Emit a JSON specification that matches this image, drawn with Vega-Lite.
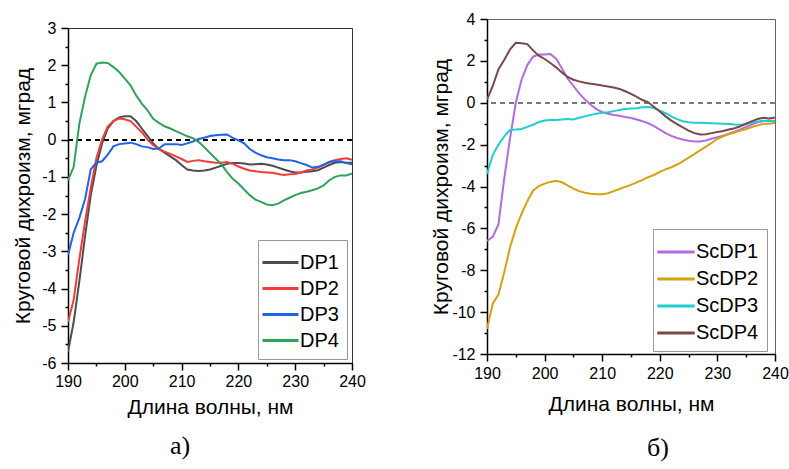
{
"$schema": "https://vega.github.io/schema/vega-lite/v6.json",
"padding": {"left": 12, "top": 10, "right": 5, "bottom": 5},
"background": "white",
"config": {"view": {"stroke": "#333", "strokeWidth": 1}, "font": "Liberation Sans", "axis": {"labelOverlap": false, "tickCount": 100}},
"datasets": {
"a": [
{"nm":190,"s":"DP1","v":-5.7},{"nm":191,"s":"DP1","v":-4.9},{"nm":192,"s":"DP1","v":-3.8},{"nm":193,"s":"DP1","v":-2.6},{"nm":194,"s":"DP1","v":-1.5},{"nm":195,"s":"DP1","v":-0.7},{"nm":196,"s":"DP1","v":-0.1},{"nm":197,"s":"DP1","v":0.3},{"nm":198,"s":"DP1","v":0.5},{"nm":199,"s":"DP1","v":0.6},{"nm":200,"s":"DP1","v":0.63},{"nm":201,"s":"DP1","v":0.63},{"nm":202,"s":"DP1","v":0.5},{"nm":203,"s":"DP1","v":0.3},{"nm":204,"s":"DP1","v":0.1},{"nm":205,"s":"DP1","v":-0.1},{"nm":206,"s":"DP1","v":-0.25},{"nm":207,"s":"DP1","v":-0.35},{"nm":208,"s":"DP1","v":-0.45},{"nm":209,"s":"DP1","v":-0.55},{"nm":210,"s":"DP1","v":-0.68},{"nm":211,"s":"DP1","v":-0.8},{"nm":212,"s":"DP1","v":-0.83},{"nm":213,"s":"DP1","v":-0.84},{"nm":214,"s":"DP1","v":-0.83},{"nm":215,"s":"DP1","v":-0.8},{"nm":216,"s":"DP1","v":-0.75},{"nm":217,"s":"DP1","v":-0.7},{"nm":218,"s":"DP1","v":-0.65},{"nm":219,"s":"DP1","v":-0.63},{"nm":220,"s":"DP1","v":-0.63},{"nm":221,"s":"DP1","v":-0.64},{"nm":222,"s":"DP1","v":-0.67},{"nm":223,"s":"DP1","v":-0.66},{"nm":224,"s":"DP1","v":-0.65},{"nm":225,"s":"DP1","v":-0.67},{"nm":226,"s":"DP1","v":-0.7},{"nm":227,"s":"DP1","v":-0.75},{"nm":228,"s":"DP1","v":-0.8},{"nm":229,"s":"DP1","v":-0.85},{"nm":230,"s":"DP1","v":-0.88},{"nm":231,"s":"DP1","v":-0.88},{"nm":232,"s":"DP1","v":-0.86},{"nm":233,"s":"DP1","v":-0.85},{"nm":234,"s":"DP1","v":-0.82},{"nm":235,"s":"DP1","v":-0.75},{"nm":236,"s":"DP1","v":-0.68},{"nm":237,"s":"DP1","v":-0.62},{"nm":238,"s":"DP1","v":-0.6},{"nm":239,"s":"DP1","v":-0.62},{"nm":240,"s":"DP1","v":-0.62},
{"nm":190,"s":"DP2","v":-4.9},{"nm":191,"s":"DP2","v":-4.3},{"nm":192,"s":"DP2","v":-3.2},{"nm":193,"s":"DP2","v":-2.2},{"nm":194,"s":"DP2","v":-1.3},{"nm":195,"s":"DP2","v":-0.5},{"nm":196,"s":"DP2","v":0.0},{"nm":197,"s":"DP2","v":0.35},{"nm":198,"s":"DP2","v":0.5},{"nm":199,"s":"DP2","v":0.57},{"nm":200,"s":"DP2","v":0.55},{"nm":201,"s":"DP2","v":0.5},{"nm":202,"s":"DP2","v":0.35},{"nm":203,"s":"DP2","v":0.2},{"nm":204,"s":"DP2","v":0.0},{"nm":205,"s":"DP2","v":-0.15},{"nm":206,"s":"DP2","v":-0.25},{"nm":207,"s":"DP2","v":-0.32},{"nm":208,"s":"DP2","v":-0.38},{"nm":209,"s":"DP2","v":-0.45},{"nm":210,"s":"DP2","v":-0.52},{"nm":211,"s":"DP2","v":-0.6},{"nm":212,"s":"DP2","v":-0.57},{"nm":213,"s":"DP2","v":-0.55},{"nm":214,"s":"DP2","v":-0.58},{"nm":215,"s":"DP2","v":-0.6},{"nm":216,"s":"DP2","v":-0.62},{"nm":217,"s":"DP2","v":-0.62},{"nm":218,"s":"DP2","v":-0.6},{"nm":219,"s":"DP2","v":-0.65},{"nm":220,"s":"DP2","v":-0.72},{"nm":221,"s":"DP2","v":-0.78},{"nm":222,"s":"DP2","v":-0.83},{"nm":223,"s":"DP2","v":-0.85},{"nm":224,"s":"DP2","v":-0.87},{"nm":225,"s":"DP2","v":-0.88},{"nm":226,"s":"DP2","v":-0.89},{"nm":227,"s":"DP2","v":-0.92},{"nm":228,"s":"DP2","v":-0.95},{"nm":229,"s":"DP2","v":-0.93},{"nm":230,"s":"DP2","v":-0.92},{"nm":231,"s":"DP2","v":-0.88},{"nm":232,"s":"DP2","v":-0.83},{"nm":233,"s":"DP2","v":-0.8},{"nm":234,"s":"DP2","v":-0.75},{"nm":235,"s":"DP2","v":-0.68},{"nm":236,"s":"DP2","v":-0.6},{"nm":237,"s":"DP2","v":-0.55},{"nm":238,"s":"DP2","v":-0.52},{"nm":239,"s":"DP2","v":-0.5},{"nm":240,"s":"DP2","v":-0.54},
{"nm":190,"s":"DP3","v":-3.1},{"nm":191,"s":"DP3","v":-2.5},{"nm":192,"s":"DP3","v":-2.1},{"nm":193,"s":"DP3","v":-1.6},{"nm":194,"s":"DP3","v":-0.8},{"nm":195,"s":"DP3","v":-0.62},{"nm":196,"s":"DP3","v":-0.58},{"nm":197,"s":"DP3","v":-0.4},{"nm":198,"s":"DP3","v":-0.18},{"nm":199,"s":"DP3","v":-0.12},{"nm":200,"s":"DP3","v":-0.1},{"nm":201,"s":"DP3","v":-0.08},{"nm":202,"s":"DP3","v":-0.12},{"nm":203,"s":"DP3","v":-0.18},{"nm":204,"s":"DP3","v":-0.2},{"nm":205,"s":"DP3","v":-0.25},{"nm":206,"s":"DP3","v":-0.24},{"nm":207,"s":"DP3","v":-0.12},{"nm":208,"s":"DP3","v":-0.12},{"nm":209,"s":"DP3","v":-0.12},{"nm":210,"s":"DP3","v":-0.14},{"nm":211,"s":"DP3","v":-0.1},{"nm":212,"s":"DP3","v":-0.05},{"nm":213,"s":"DP3","v":0.02},{"nm":214,"s":"DP3","v":0.05},{"nm":215,"s":"DP3","v":0.1},{"nm":216,"s":"DP3","v":0.12},{"nm":217,"s":"DP3","v":0.13},{"nm":218,"s":"DP3","v":0.14},{"nm":219,"s":"DP3","v":0.05},{"nm":220,"s":"DP3","v":-0.02},{"nm":221,"s":"DP3","v":-0.1},{"nm":222,"s":"DP3","v":-0.25},{"nm":223,"s":"DP3","v":-0.35},{"nm":224,"s":"DP3","v":-0.42},{"nm":225,"s":"DP3","v":-0.47},{"nm":226,"s":"DP3","v":-0.5},{"nm":227,"s":"DP3","v":-0.53},{"nm":228,"s":"DP3","v":-0.55},{"nm":229,"s":"DP3","v":-0.55},{"nm":230,"s":"DP3","v":-0.58},{"nm":231,"s":"DP3","v":-0.63},{"nm":232,"s":"DP3","v":-0.68},{"nm":233,"s":"DP3","v":-0.75},{"nm":234,"s":"DP3","v":-0.73},{"nm":235,"s":"DP3","v":-0.67},{"nm":236,"s":"DP3","v":-0.6},{"nm":237,"s":"DP3","v":-0.58},{"nm":238,"s":"DP3","v":-0.58},{"nm":239,"s":"DP3","v":-0.63},{"nm":240,"s":"DP3","v":-0.66},
{"nm":190,"s":"DP4","v":-1.09},{"nm":191,"s":"DP4","v":-0.73},{"nm":192,"s":"DP4","v":0.43},{"nm":193,"s":"DP4","v":1.15},{"nm":194,"s":"DP4","v":1.73},{"nm":195,"s":"DP4","v":2.04},{"nm":196,"s":"DP4","v":2.07},{"nm":197,"s":"DP4","v":2.06},{"nm":198,"s":"DP4","v":1.95},{"nm":199,"s":"DP4","v":1.82},{"nm":200,"s":"DP4","v":1.64},{"nm":201,"s":"DP4","v":1.46},{"nm":202,"s":"DP4","v":1.19},{"nm":203,"s":"DP4","v":0.97},{"nm":204,"s":"DP4","v":0.79},{"nm":205,"s":"DP4","v":0.56},{"nm":206,"s":"DP4","v":0.45},{"nm":207,"s":"DP4","v":0.36},{"nm":208,"s":"DP4","v":0.3},{"nm":209,"s":"DP4","v":0.23},{"nm":210,"s":"DP4","v":0.16},{"nm":211,"s":"DP4","v":0.09},{"nm":212,"s":"DP4","v":0.04},{"nm":213,"s":"DP4","v":-0.06},{"nm":214,"s":"DP4","v":-0.2},{"nm":215,"s":"DP4","v":-0.36},{"nm":216,"s":"DP4","v":-0.51},{"nm":217,"s":"DP4","v":-0.66},{"nm":218,"s":"DP4","v":-0.87},{"nm":219,"s":"DP4","v":-1.05},{"nm":220,"s":"DP4","v":-1.18},{"nm":221,"s":"DP4","v":-1.34},{"nm":222,"s":"DP4","v":-1.49},{"nm":223,"s":"DP4","v":-1.61},{"nm":224,"s":"DP4","v":-1.67},{"nm":225,"s":"DP4","v":-1.74},{"nm":226,"s":"DP4","v":-1.76},{"nm":227,"s":"DP4","v":-1.72},{"nm":228,"s":"DP4","v":-1.63},{"nm":229,"s":"DP4","v":-1.56},{"nm":230,"s":"DP4","v":-1.49},{"nm":231,"s":"DP4","v":-1.43},{"nm":232,"s":"DP4","v":-1.4},{"nm":233,"s":"DP4","v":-1.36},{"nm":234,"s":"DP4","v":-1.31},{"nm":235,"s":"DP4","v":-1.23},{"nm":236,"s":"DP4","v":-1.09},{"nm":237,"s":"DP4","v":-1.0},{"nm":238,"s":"DP4","v":-0.96},{"nm":239,"s":"DP4","v":-0.96},{"nm":240,"s":"DP4","v":-0.91}
],
"b": [
{"nm":190,"s":"ScDP1","v":-6.6},{"nm":191,"s":"ScDP1","v":-6.4},{"nm":192,"s":"ScDP1","v":-5.8},{"nm":193,"s":"ScDP1","v":-3.6},{"nm":194,"s":"ScDP1","v":-1.7},{"nm":195,"s":"ScDP1","v":0.0},{"nm":196,"s":"ScDP1","v":1.1},{"nm":197,"s":"ScDP1","v":1.8},{"nm":198,"s":"ScDP1","v":2.2},{"nm":199,"s":"ScDP1","v":2.3},{"nm":200,"s":"ScDP1","v":2.3},{"nm":201,"s":"ScDP1","v":2.33},{"nm":202,"s":"ScDP1","v":2.1},{"nm":203,"s":"ScDP1","v":1.65},{"nm":204,"s":"ScDP1","v":1.15},{"nm":205,"s":"ScDP1","v":0.8},{"nm":206,"s":"ScDP1","v":0.45},{"nm":207,"s":"ScDP1","v":0.15},{"nm":208,"s":"ScDP1","v":-0.1},{"nm":209,"s":"ScDP1","v":-0.3},{"nm":210,"s":"ScDP1","v":-0.45},{"nm":211,"s":"ScDP1","v":-0.53},{"nm":212,"s":"ScDP1","v":-0.58},{"nm":213,"s":"ScDP1","v":-0.62},{"nm":214,"s":"ScDP1","v":-0.68},{"nm":215,"s":"ScDP1","v":-0.73},{"nm":216,"s":"ScDP1","v":-0.8},{"nm":217,"s":"ScDP1","v":-0.88},{"nm":218,"s":"ScDP1","v":-0.98},{"nm":219,"s":"ScDP1","v":-1.12},{"nm":220,"s":"ScDP1","v":-1.28},{"nm":221,"s":"ScDP1","v":-1.45},{"nm":222,"s":"ScDP1","v":-1.58},{"nm":223,"s":"ScDP1","v":-1.68},{"nm":224,"s":"ScDP1","v":-1.76},{"nm":225,"s":"ScDP1","v":-1.82},{"nm":226,"s":"ScDP1","v":-1.85},{"nm":227,"s":"ScDP1","v":-1.85},{"nm":228,"s":"ScDP1","v":-1.8},{"nm":229,"s":"ScDP1","v":-1.72},{"nm":230,"s":"ScDP1","v":-1.65},{"nm":231,"s":"ScDP1","v":-1.57},{"nm":232,"s":"ScDP1","v":-1.48},{"nm":233,"s":"ScDP1","v":-1.38},{"nm":234,"s":"ScDP1","v":-1.27},{"nm":235,"s":"ScDP1","v":-1.15},{"nm":236,"s":"ScDP1","v":-1.03},{"nm":237,"s":"ScDP1","v":-0.93},{"nm":238,"s":"ScDP1","v":-0.87},{"nm":239,"s":"ScDP1","v":-0.86},{"nm":240,"s":"ScDP1","v":-0.86},
{"nm":190,"s":"ScDP2","v":-10.8},{"nm":191,"s":"ScDP2","v":-9.6},{"nm":192,"s":"ScDP2","v":-9.15},{"nm":193,"s":"ScDP2","v":-8.1},{"nm":194,"s":"ScDP2","v":-6.9},{"nm":195,"s":"ScDP2","v":-6.0},{"nm":196,"s":"ScDP2","v":-5.3},{"nm":197,"s":"ScDP2","v":-4.7},{"nm":198,"s":"ScDP2","v":-4.2},{"nm":199,"s":"ScDP2","v":-3.98},{"nm":200,"s":"ScDP2","v":-3.86},{"nm":201,"s":"ScDP2","v":-3.78},{"nm":202,"s":"ScDP2","v":-3.73},{"nm":203,"s":"ScDP2","v":-3.8},{"nm":204,"s":"ScDP2","v":-3.95},{"nm":205,"s":"ScDP2","v":-4.1},{"nm":206,"s":"ScDP2","v":-4.22},{"nm":207,"s":"ScDP2","v":-4.3},{"nm":208,"s":"ScDP2","v":-4.35},{"nm":209,"s":"ScDP2","v":-4.37},{"nm":210,"s":"ScDP2","v":-4.37},{"nm":211,"s":"ScDP2","v":-4.32},{"nm":212,"s":"ScDP2","v":-4.22},{"nm":213,"s":"ScDP2","v":-4.12},{"nm":214,"s":"ScDP2","v":-4.02},{"nm":215,"s":"ScDP2","v":-3.92},{"nm":216,"s":"ScDP2","v":-3.8},{"nm":217,"s":"ScDP2","v":-3.68},{"nm":218,"s":"ScDP2","v":-3.55},{"nm":219,"s":"ScDP2","v":-3.45},{"nm":220,"s":"ScDP2","v":-3.3},{"nm":221,"s":"ScDP2","v":-3.18},{"nm":222,"s":"ScDP2","v":-3.08},{"nm":223,"s":"ScDP2","v":-2.95},{"nm":224,"s":"ScDP2","v":-2.8},{"nm":225,"s":"ScDP2","v":-2.62},{"nm":226,"s":"ScDP2","v":-2.45},{"nm":227,"s":"ScDP2","v":-2.27},{"nm":228,"s":"ScDP2","v":-2.1},{"nm":229,"s":"ScDP2","v":-1.92},{"nm":230,"s":"ScDP2","v":-1.72},{"nm":231,"s":"ScDP2","v":-1.6},{"nm":232,"s":"ScDP2","v":-1.5},{"nm":233,"s":"ScDP2","v":-1.42},{"nm":234,"s":"ScDP2","v":-1.33},{"nm":235,"s":"ScDP2","v":-1.25},{"nm":236,"s":"ScDP2","v":-1.16},{"nm":237,"s":"ScDP2","v":-1.08},{"nm":238,"s":"ScDP2","v":-1.0},{"nm":239,"s":"ScDP2","v":-1.0},{"nm":240,"s":"ScDP2","v":-0.97},
{"nm":190,"s":"ScDP3","v":-3.4},{"nm":191,"s":"ScDP3","v":-2.5},{"nm":192,"s":"ScDP3","v":-2.0},{"nm":193,"s":"ScDP3","v":-1.6},{"nm":194,"s":"ScDP3","v":-1.3},{"nm":195,"s":"ScDP3","v":-1.28},{"nm":196,"s":"ScDP3","v":-1.25},{"nm":197,"s":"ScDP3","v":-1.15},{"nm":198,"s":"ScDP3","v":-1.05},{"nm":199,"s":"ScDP3","v":-0.92},{"nm":200,"s":"ScDP3","v":-0.85},{"nm":201,"s":"ScDP3","v":-0.82},{"nm":202,"s":"ScDP3","v":-0.82},{"nm":203,"s":"ScDP3","v":-0.8},{"nm":204,"s":"ScDP3","v":-0.78},{"nm":205,"s":"ScDP3","v":-0.8},{"nm":206,"s":"ScDP3","v":-0.72},{"nm":207,"s":"ScDP3","v":-0.65},{"nm":208,"s":"ScDP3","v":-0.58},{"nm":209,"s":"ScDP3","v":-0.52},{"nm":210,"s":"ScDP3","v":-0.48},{"nm":211,"s":"ScDP3","v":-0.45},{"nm":212,"s":"ScDP3","v":-0.4},{"nm":213,"s":"ScDP3","v":-0.35},{"nm":214,"s":"ScDP3","v":-0.3},{"nm":215,"s":"ScDP3","v":-0.28},{"nm":216,"s":"ScDP3","v":-0.26},{"nm":217,"s":"ScDP3","v":-0.22},{"nm":218,"s":"ScDP3","v":-0.2},{"nm":219,"s":"ScDP3","v":-0.25},{"nm":220,"s":"ScDP3","v":-0.38},{"nm":221,"s":"ScDP3","v":-0.5},{"nm":222,"s":"ScDP3","v":-0.65},{"nm":223,"s":"ScDP3","v":-0.78},{"nm":224,"s":"ScDP3","v":-0.88},{"nm":225,"s":"ScDP3","v":-0.93},{"nm":226,"s":"ScDP3","v":-0.95},{"nm":227,"s":"ScDP3","v":-0.96},{"nm":228,"s":"ScDP3","v":-0.97},{"nm":229,"s":"ScDP3","v":-0.98},{"nm":230,"s":"ScDP3","v":-0.99},{"nm":231,"s":"ScDP3","v":-1.0},{"nm":232,"s":"ScDP3","v":-1.02},{"nm":233,"s":"ScDP3","v":-1.04},{"nm":234,"s":"ScDP3","v":-1.05},{"nm":235,"s":"ScDP3","v":-1.03},{"nm":236,"s":"ScDP3","v":-0.95},{"nm":237,"s":"ScDP3","v":-0.9},{"nm":238,"s":"ScDP3","v":-0.86},{"nm":239,"s":"ScDP3","v":-0.88},{"nm":240,"s":"ScDP3","v":-0.87},
{"nm":190,"s":"ScDP4","v":0.15},{"nm":191,"s":"ScDP4","v":0.8},{"nm":192,"s":"ScDP4","v":1.6},{"nm":193,"s":"ScDP4","v":2.05},{"nm":194,"s":"ScDP4","v":2.55},{"nm":195,"s":"ScDP4","v":2.86},{"nm":196,"s":"ScDP4","v":2.84},{"nm":197,"s":"ScDP4","v":2.8},{"nm":198,"s":"ScDP4","v":2.5},{"nm":199,"s":"ScDP4","v":2.25},{"nm":200,"s":"ScDP4","v":2.09},{"nm":201,"s":"ScDP4","v":1.9},{"nm":202,"s":"ScDP4","v":1.69},{"nm":203,"s":"ScDP4","v":1.45},{"nm":204,"s":"ScDP4","v":1.23},{"nm":205,"s":"ScDP4","v":1.1},{"nm":206,"s":"ScDP4","v":1.02},{"nm":207,"s":"ScDP4","v":0.96},{"nm":208,"s":"ScDP4","v":0.91},{"nm":209,"s":"ScDP4","v":0.87},{"nm":210,"s":"ScDP4","v":0.82},{"nm":211,"s":"ScDP4","v":0.78},{"nm":212,"s":"ScDP4","v":0.73},{"nm":213,"s":"ScDP4","v":0.66},{"nm":214,"s":"ScDP4","v":0.55},{"nm":215,"s":"ScDP4","v":0.42},{"nm":216,"s":"ScDP4","v":0.28},{"nm":217,"s":"ScDP4","v":0.13},{"nm":218,"s":"ScDP4","v":0.02},{"nm":219,"s":"ScDP4","v":-0.2},{"nm":220,"s":"ScDP4","v":-0.42},{"nm":221,"s":"ScDP4","v":-0.65},{"nm":222,"s":"ScDP4","v":-0.85},{"nm":223,"s":"ScDP4","v":-1.02},{"nm":224,"s":"ScDP4","v":-1.18},{"nm":225,"s":"ScDP4","v":-1.33},{"nm":226,"s":"ScDP4","v":-1.45},{"nm":227,"s":"ScDP4","v":-1.52},{"nm":228,"s":"ScDP4","v":-1.5},{"nm":229,"s":"ScDP4","v":-1.45},{"nm":230,"s":"ScDP4","v":-1.4},{"nm":231,"s":"ScDP4","v":-1.35},{"nm":232,"s":"ScDP4","v":-1.28},{"nm":233,"s":"ScDP4","v":-1.22},{"nm":234,"s":"ScDP4","v":-1.12},{"nm":235,"s":"ScDP4","v":-1.0},{"nm":236,"s":"ScDP4","v":-0.88},{"nm":237,"s":"ScDP4","v":-0.78},{"nm":238,"s":"ScDP4","v":-0.72},{"nm":239,"s":"ScDP4","v":-0.75},{"nm":240,"s":"ScDP4","v":-0.7}
]
},
"spacing": 64,
"resolve": {"scale": {"x": "independent", "y": "independent", "color": "independent"}, "legend": {"color": "independent"}},
"hconcat": [
{
"vconcat": [
{"width": 284, "height": 1, "data": {"values": []}, "mark": "point", "view": {"stroke": null}},
{
"width": 284, "height": 335,
"title": {"text": "а)", "orient": "bottom", "font": "Liberation Serif", "fontSize": 26, "fontWeight": "normal", "color": "black", "dx": -30, "offset": 16},
"data": {"name": "a"},
"layer": [
{"mark": {"type": "rule", "strokeDash": [5, 4], "color": "black", "strokeWidth": 1}, "encoding": {"y": {"datum": 0, "type": "quantitative"}}},
{"mark": {"type": "line", "strokeWidth": 2, "clip": true},
"encoding": {
"x": {"field": "nm", "type": "quantitative", "scale": {"domain": [190, 240], "nice": false, "zero": false},
"axis": {"title": "Длина волны, нм", "values": [190,195,200,205,210,215,220,225,230,235,240], "tickCount": 100, "labelExpr": "datum.value % 10 === 0 ? toString(datum.value) : ''", "tickSize": {"condition": {"test": "datum.value % 10 !== 0", "value": 3}, "value": 7}, "labelPadding": 3, "titlePadding": 7, "labelFontSize": 16, "titleFontSize": 21, "titleFontWeight": "normal", "grid": false, "domainColor": "black", "tickColor": "black", "labelColor": "black", "titleColor": "black", "domainWidth": 1.5, "tickWidth": 1.5, "labelFlush": false, "labelOverlap": false, "labelBound": false}},
"y": {"field": "v", "type": "quantitative", "scale": {"domain": [-6, 3], "nice": false, "zero": false},
"axis": {"title": "Круговой дихроизм, мград", "values": [-6,-5.5,-5,-4.5,-4,-3.5,-3,-2.5,-2,-1.5,-1,-0.5,0,0.5,1,1.5,2,2.5,3], "tickCount": 100, "labelExpr": "datum.value % 1 === 0 ? toString(datum.value) : ''", "tickSize": {"condition": {"test": "datum.value % 1 !== 0", "value": 3}, "value": 7}, "labelPadding": 5, "titlePadding": 8, "labelFontSize": 16, "titleFontSize": 21, "titleFontWeight": "normal", "grid": false, "domainColor": "black", "tickColor": "black", "labelColor": "black", "titleColor": "black", "domainWidth": 1.5, "tickWidth": 1.5, "labelFlush": false, "labelOverlap": false, "labelBound": false}},
"color": {"field": "s", "type": "nominal", "scale": {"domain": ["DP1", "DP2", "DP3", "DP4"], "range": ["#4d4d4d", "#f53a3a", "#1f63e6", "#2ea35a"]},
"legend": {"title": null, "orient": "none", "legendX": 190, "legendY": 221, "symbolType": "M-1.385,0H1.385", "symbolSize": 676, "symbolStrokeWidth": 3, "labelFontSize": 20, "labelColor": "black", "labelOffset": 5, "rowPadding": 1, "padding": 8, "strokeColor": "#999", "fillColor": "white"}}
}}
]
}
],
"spacing": -1
},
{
"width": 288, "height": 335,
"title": {"text": "б)", "orient": "bottom", "font": "Liberation Serif", "fontSize": 26, "fontWeight": "normal", "color": "black", "dx": 27, "offset": 21},
"view": {"stroke": "#666"},
"data": {"name": "b"},
"layer": [
{"mark": {"type": "rule", "strokeDash": [5, 4], "color": "#777", "strokeWidth": 1}, "encoding": {"y": {"datum": 0, "type": "quantitative"}}},
{"mark": {"type": "line", "strokeWidth": 2, "clip": true},
"encoding": {
"x": {"field": "nm", "type": "quantitative", "scale": {"domain": [190, 240], "nice": false, "zero": false},
"axis": {"title": "Длина волны, нм", "values": [190,195,200,205,210,215,220,225,230,235,240], "tickCount": 100, "labelExpr": "datum.value % 10 === 0 ? toString(datum.value) : ''", "tickSize": {"condition": {"test": "datum.value % 10 !== 0", "value": 3}, "value": 7}, "labelPadding": 4, "titlePadding": 12, "labelFontSize": 16, "titleFontSize": 21, "titleFontWeight": "normal", "grid": false, "domainColor": "black", "tickColor": "black", "labelColor": "black", "titleColor": "black", "domainWidth": 1.5, "tickWidth": 1.5, "labelFlush": false, "labelOverlap": false, "labelBound": false}},
"y": {"field": "v", "type": "quantitative", "scale": {"domain": [-12, 4], "nice": false, "zero": false},
"axis": {"title": "Круговой дихроизм, мград", "values": [-12,-11,-10,-9,-8,-7,-6,-5,-4,-3,-2,-1,0,1,2,3,4], "tickCount": 100, "labelExpr": "datum.value % 2 === 0 ? toString(datum.value) : ''", "tickSize": {"condition": {"test": "datum.value % 2 !== 0", "value": 3}, "value": 7}, "labelPadding": 5, "titlePadding": 0, "labelFontSize": 16, "titleFontSize": 21, "titleFontWeight": "normal", "grid": false, "domainColor": "black", "tickColor": "black", "labelColor": "black", "titleColor": "black", "domainWidth": 1.5, "tickWidth": 1.5, "labelFlush": false, "labelOverlap": false, "labelBound": false}},
"color": {"field": "s", "type": "nominal", "scale": {"domain": ["ScDP1", "ScDP2", "ScDP3", "ScDP4"], "range": ["#b36be3", "#d4a20f", "#1fcfcf", "#7a4848"]},
"legend": {"title": null, "orient": "none", "legendX": 166, "legendY": 210, "symbolType": "M-1.385,0H1.385", "symbolSize": 729, "symbolStrokeWidth": 3, "labelFontSize": 20, "labelColor": "black", "labelOffset": 5, "rowPadding": 2, "padding": 8, "strokeColor": "#999", "fillColor": "white"}}
}}
]
}
]
}
